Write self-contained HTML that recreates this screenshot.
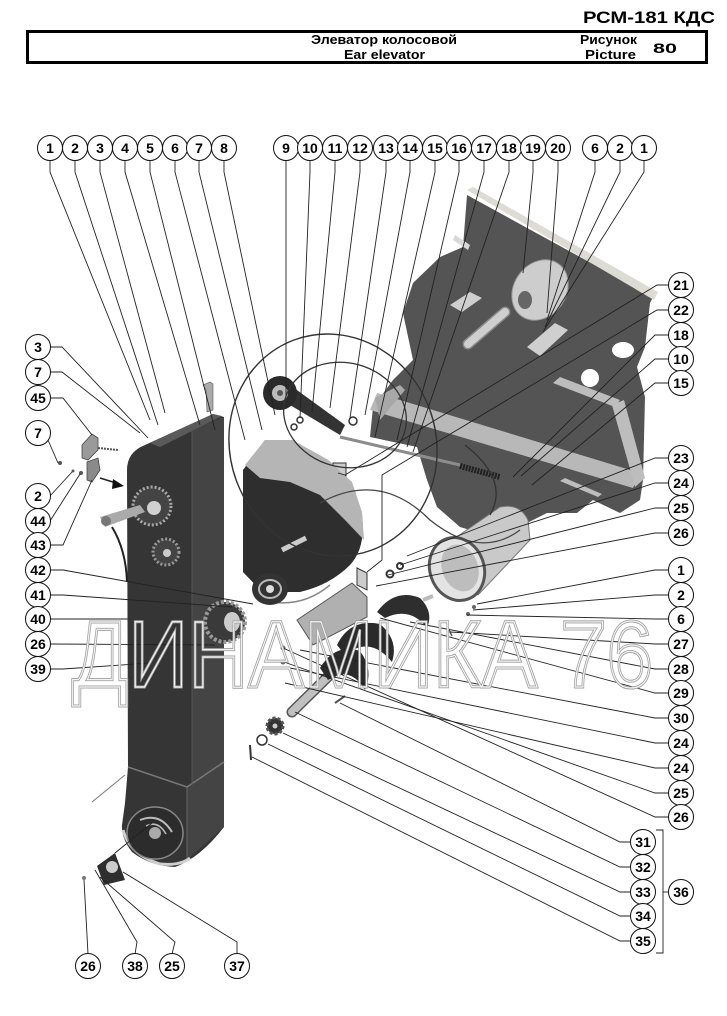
<!DOCTYPE html>
<html>
<head>
<meta charset="utf-8">
<style>
  html,body{margin:0;padding:0;background:#fff;}
  svg{display:block;}
  .c circle{fill:#fff;stroke:#111;stroke-width:1;}
  .c text{font-family:"Liberation Sans",Arial,sans-serif;font-weight:bold;font-size:14px;text-anchor:middle;fill:#000;}
  .ld polyline,.ld line{fill:none;stroke:#222;stroke-width:0.9;}
</style>
</head>
<body>
<svg width="727" height="1016" viewBox="0 0 727 1016" xmlns="http://www.w3.org/2000/svg">
<rect width="727" height="1016" fill="#fff"/>

<!-- Header -->
<text x="583" y="23" font-family="'Liberation Sans',Arial,sans-serif" font-weight="bold" font-size="17" textLength="132" lengthAdjust="spacingAndGlyphs">РСМ-181 КДС</text>
<rect x="27.5" y="31.5" width="679" height="31" fill="none" stroke="#000" stroke-width="3"/>
<g font-family="'Liberation Sans',Arial,sans-serif" font-weight="bold" font-size="13" fill="#000">
<text x="311" y="44" textLength="146" lengthAdjust="spacingAndGlyphs">Элеватор колосовой</text>
<text x="344" y="59" textLength="81" lengthAdjust="spacingAndGlyphs">Ear elevator</text>
<text x="580" y="44" textLength="57" lengthAdjust="spacingAndGlyphs">Рисунок</text>
<text x="585" y="59" textLength="51" lengthAdjust="spacingAndGlyphs">Picture</text>
<text x="653" y="53" font-size="14" textLength="24" lengthAdjust="spacingAndGlyphs">80</text>
</g>

<!-- ===== Top-right panel ===== -->
<polygon points="467,195 653,297 650,303 645,347 637,367 645,397 643,480 640,500 620,513 593,500 577,513 547,513 527,523 500,520 470,530 460,527 437,507 427,480 417,447 370,437 373,407 393,380 413,360 403,313 413,283 440,257 463,247" fill="#545454"/>
<polygon points="467,190 473,187 658,292 654,300" fill="#dcdcd4"/>
<polygon points="455,235 470,245 468,250 453,240" fill="#d8d8d8"/>
<line x1="505" y1="312" x2="468" y2="344" stroke="#8a8a8a" stroke-width="11" stroke-linecap="round"/>
<line x1="505" y1="312" x2="468" y2="344" stroke="#cfcfcf" stroke-width="8" stroke-linecap="round"/>
<ellipse cx="540" cy="290" rx="26" ry="32" transform="rotate(35 540 290)" fill="#cdcdcd" stroke="#9a9a9a"/>
<ellipse cx="525" cy="300" rx="7" ry="9" fill="#666"/>
<polygon points="527,347 555,323 568,330 540,356" fill="#cfcfcf"/>
<polygon points="450,305 470,292 482,298 462,312" fill="#cfcfcf"/>
<ellipse cx="623" cy="350" rx="11" ry="8" fill="#fff"/>
<ellipse cx="590" cy="378" rx="9" ry="9" fill="#fff"/>
<polygon points="377,393 640,473 633,488 370,410" fill="#b8b8b8"/>
<polygon points="553,383 560,377 620,400 615,407" fill="#bdbdbd"/>
<polygon points="612,405 624,400 645,478 635,487" fill="#bdbdbd"/>
<polygon points="560,481 565,478 602,494 598,497" fill="#bdbdbd"/>
<polygon points="375,398 400,385 405,390 380,420" fill="#a8a8a8"/>
<line x1="340" y1="437" x2="460" y2="465" stroke="#8c8c8c" stroke-width="3"/>
<line x1="460" y1="466" x2="500" y2="477" stroke="#222" stroke-width="6" stroke-dasharray="2 1"/>
<rect x="333" y="463" width="13" height="13" fill="#ccc" stroke="#333" stroke-width="1"/>

<!-- Nozzle -->
<path d="M445,545 L500,507 Q520,503 528,520 L530,540 L478,595 Z" fill="#c9c9c9" stroke="#777" stroke-width="1"/>
<ellipse cx="457" cy="569" rx="27" ry="32" transform="rotate(-20 457 569)" fill="#e3e3e3" stroke="#555" stroke-width="3"/>
<ellipse cx="460" cy="568" rx="18" ry="24" transform="rotate(-20 460 568)" fill="#bdbdbd"/>

<!-- ===== Elevator column ===== -->
<path d="M127,470 Q127,452 145,445 L213,414 L224,417 L224,827 Q200,858 175,867 Q150,866 132,852 Q121,838 122,825 L125,803 L128,767 Z" fill="#353535"/>
<polygon points="192,430 224,417 224,827 187,860 187,787 192,785" fill="#444"/>
<polygon points="150,443 213,414 222,416 160,447" fill="#5a5a5a"/>
<polyline points="128,767 187,787 224,762" fill="none" stroke="#777" stroke-width="1.5"/>
<line x1="187" y1="787" x2="187" y2="860" stroke="#666" stroke-width="1"/>
<line x1="192" y1="430" x2="192" y2="785" stroke="#555" stroke-width="1"/>
<path d="M123,830 Q130,855 160,864 Q180,866 190,858" fill="none" stroke="#cfcfcf" stroke-width="3"/>
<ellipse cx="155" cy="833" rx="28" ry="26" fill="#2c2c2c" stroke="#888" stroke-width="1.5"/>
<path d="M140,820 Q160,812 172,832" fill="none" stroke="#bbb" stroke-width="2"/>
<path d="M146,826 Q158,820 166,834" fill="none" stroke="#bbb" stroke-width="1.5"/>
<circle cx="155" cy="833" r="6" fill="#aaa"/>
<!-- gears on column -->
<circle cx="152" cy="506" r="19" fill="#444" stroke="#aaa" stroke-width="3" stroke-dasharray="2 2"/>
<circle cx="154" cy="508" r="7" fill="#d0d0d0"/>
<circle cx="166" cy="552" r="13" fill="#444" stroke="#999" stroke-width="3" stroke-dasharray="2 2"/>
<circle cx="167" cy="553" r="4" fill="#ccc"/>
<polygon points="100,517 140,505 145,512 105,527" fill="#aaa"/>
<circle cx="106" cy="521" r="5" fill="#777"/>
<path d="M112,527 Q126,550 127,582" fill="none" stroke="#222" stroke-width="2"/>
<!-- small brackets left -->
<polygon points="82,445 92,434 98,438 98,450 88,460 82,458" fill="#9a9a9a" stroke="#444" stroke-width="0.8"/>
<polygon points="87,462 98,458 100,470 92,482 87,480" fill="#8a8a8a" stroke="#444" stroke-width="0.8"/>
<line x1="100" y1="478" x2="116" y2="483" stroke="#222" stroke-width="1.5"/>
<polygon points="124,486 113,479 112,489" fill="#111"/>
<polygon points="203,385 210,382 213,384 213,410 207,412 206,390" fill="#aaa" stroke="#555" stroke-width="0.6"/>
<line x1="98" y1="448" x2="118" y2="450" stroke="#555" stroke-width="2" stroke-dasharray="2 1"/>
<circle cx="60" cy="463" r="2" fill="#555"/>
<circle cx="73" cy="471" r="1.5" fill="#555"/>
<circle cx="81" cy="473" r="2" fill="#555"/>
<line x1="92" y1="802" x2="125" y2="775" stroke="#777" stroke-width="1"/>

<!-- ===== Fan housing ===== -->
<path d="M243,470 L265,440 L292,440 L328,460 Q352,480 362,515 Q366,548 350,565 Q330,585 300,592 L262,592 L243,572 Z" fill="#2e2e2e"/>
<polygon points="245,465 265,440 292,440 328,460 352,482 362,512 364,540 345,520 320,495 290,482 260,478" fill="#b5b5b5"/>
<line x1="282" y1="550" x2="306" y2="538" stroke="#ccc" stroke-width="5"/>
<path d="M262,600 Q300,610 330,585" fill="none" stroke="#888" stroke-width="1.5"/>
<ellipse cx="270" cy="589" rx="18" ry="16" fill="#333"/>
<ellipse cx="270" cy="589" rx="11" ry="9" fill="none" stroke="#bbb" stroke-width="2"/>
<circle cx="270" cy="589" r="4" fill="#ddd"/>
<!-- tensioner -->
<polygon points="290,385 345,425 340,435 285,402" fill="#333"/>
<circle cx="280" cy="393" r="17" fill="#2a2a2a"/>
<circle cx="280" cy="393" r="8" fill="#bbb"/>
<circle cx="280" cy="393" r="3" fill="#555"/>
<circle cx="300" cy="420" r="3" fill="none" stroke="#333" stroke-width="1.5"/>
<circle cx="294" cy="427" r="3" fill="none" stroke="#333" stroke-width="1.5"/>
<circle cx="353" cy="421" r="4" fill="none" stroke="#333" stroke-width="1.5"/>
<!-- belts -->
<ellipse cx="333" cy="445" rx="103" ry="112" transform="rotate(-20 333 445)" fill="none" stroke="#333" stroke-width="1.4"/>
<ellipse cx="345" cy="415" rx="62" ry="52" transform="rotate(15 345 415)" fill="none" stroke="#333" stroke-width="1.3"/>
<path d="M320,503 Q380,470 430,520 Q480,560 520,530" fill="none" stroke="#444" stroke-width="1.3"/>
<path d="M465,445 Q510,480 490,515" fill="none" stroke="#333" stroke-width="1.3"/>

<!-- ===== Auger region ===== -->
<polygon points="297,620 352,583 367,597 367,617 313,645" fill="#b0b0b0" stroke="#555" stroke-width="1"/>
<polygon points="357,568 367,573 367,590 357,585" fill="#ccc" stroke="#333" stroke-width="1"/>
<path d="M377,612 Q395,588 420,598 Q434,612 427,628 Q410,606 385,618 Z" fill="#2e2e2e"/>
<line x1="423" y1="600" x2="433" y2="596" stroke="#bbb" stroke-width="4"/>
<line x1="292" y1="712" x2="350" y2="655" stroke="#555" stroke-width="11" stroke-linecap="round"/>
<line x1="292" y1="712" x2="350" y2="655" stroke="#c0c0c0" stroke-width="8" stroke-linecap="round"/>
<path d="M337,645 Q350,618 380,624 Q399,640 392,662 Q370,635 345,655 Z" fill="#2a2a2a"/>
<path d="M320,668 Q335,643 360,651 Q374,670 365,690 Q350,665 328,680 Z" fill="#2a2a2a"/>
<circle cx="275" cy="726" r="8" fill="#333" stroke="#555" stroke-width="3" stroke-dasharray="3 2"/>
<circle cx="275" cy="726" r="2.5" fill="#ccc"/>
<circle cx="262" cy="740" r="5" fill="none" stroke="#333" stroke-width="1.5"/>
<line x1="250" y1="745" x2="251" y2="760" stroke="#333" stroke-width="2"/>
<line x1="335" y1="703" x2="345" y2="696" stroke="#555" stroke-width="2"/>
<!-- gear 41 -->
<circle cx="225" cy="622" r="20" fill="#3a3a3a" stroke="#999" stroke-width="4" stroke-dasharray="3 2"/>
<ellipse cx="232" cy="622" rx="8" ry="10" fill="#ccc"/>
<!-- washers etc -->
<circle cx="400" cy="566" r="3" fill="none" stroke="#333" stroke-width="2"/>
<circle cx="390" cy="574" r="3.5" fill="none" stroke="#333" stroke-width="2"/>
<circle cx="283" cy="648" r="2.5" fill="#666"/>
<circle cx="283" cy="662" r="2.5" fill="#666"/>
<circle cx="474" cy="607" r="2" fill="#666"/>
<circle cx="468" cy="614" r="2" fill="#666"/>
<line x1="448" y1="628" x2="452" y2="636" stroke="#555" stroke-width="1.5"/>

<!-- bottom bearing housing -->
<polygon points="97,866 115,853 125,880 104,885" fill="#2e2e2e"/>
<ellipse cx="112" cy="867" rx="6" ry="6" fill="#ccc"/>
<circle cx="84" cy="878" r="2" fill="#777"/>
<line x1="115" y1="853" x2="152" y2="823" stroke="#222" stroke-width="1"/>

<!-- ===== Leader lines ===== -->
<g class="ld">
<polyline points="50,160 50,172 150,420"/>
<polyline points="75,160 75,172 158,425"/>
<polyline points="100,160 100,172 165,413"/>
<polyline points="125,160 125,172 200,425"/>
<polyline points="150,160 150,172 215,430"/>
<polyline points="175,160 175,172 245,440"/>
<polyline points="199,160 199,172 262,430"/>
<polyline points="224,160 224,172 275,415"/>
<polyline points="286,160 286,395"/>
<polyline points="310,160 310,172 300,418"/>
<polyline points="335,160 335,172 312,412"/>
<polyline points="360,160 360,172 330,408"/>
<polyline points="386,160 386,172 350,418"/>
<polyline points="410,160 410,172 365,415"/>
<polyline points="435,160 435,172 375,437"/>
<polyline points="459,160 459,172 397,440"/>
<polyline points="484,160 484,172 407,447"/>
<polyline points="509,160 509,172 413,452"/>
<polyline points="533,160 533,172 523,273"/>
<polyline points="558,160 558,172 547,313"/>
<polyline points="595,160 595,172 547,320"/>
<polyline points="620,160 620,172 545,327"/>
<polyline points="644,160 644,172 543,332"/>
<!-- right column -->
<polyline points="668,285 657,285 345,475 338,473"/>
<polyline points="668,310 657,310 382,475 382,560 367,572"/>
<polyline points="668,335 655,335 513,477"/>
<polyline points="668,359 655,359 521,476"/>
<polyline points="668,383 655,383 532,485"/>
<polyline points="668,458 655,458 407,556"/>
<polyline points="668,483 655,483 400,565"/>
<polyline points="668,508 655,508 388,575"/>
<polyline points="668,533 655,533 376,586"/>
<polyline points="668,570 655,570 477,604"/>
<polyline points="668,595 655,595 473,610"/>
<polyline points="668,619 655,619 467,615"/>
<polyline points="668,644 655,644 450,632"/>
<polyline points="668,669 655,669 410,622"/>
<polyline points="668,693 655,693 380,618"/>
<polyline points="668,718 655,718 300,650"/>
<polyline points="668,743 655,743 290,668"/>
<polyline points="668,768 655,768 285,683"/>
<polyline points="668,793 655,793 284,662"/>
<polyline points="668,817 655,817 283,648"/>
<polyline points="630,842 620,842 340,703"/>
<polyline points="630,867 620,867 295,712"/>
<polyline points="630,892 620,892 283,733"/>
<polyline points="630,916 620,916 268,744"/>
<polyline points="630,941 620,941 252,757"/>
<polyline points="656,830 663,830 663,953 656,953"/>
<line x1="663" y1="892" x2="669" y2="892"/>
<!-- left column -->
<polyline points="50,347 62,347 148,438"/>
<polyline points="50,372 62,372 140,433"/>
<polyline points="50,398 63,398 92,435"/>
<polyline points="48,440 58,463"/>
<polyline points="50,496 72,472"/>
<polyline points="50,521 80,474"/>
<polyline points="50,545 63,545 92,480"/>
<polyline points="50,570 63,570 253,604"/>
<polyline points="50,595 63,595 232,607"/>
<polyline points="50,619 128,619"/>
<polyline points="50,644 215,645"/>
<polyline points="50,669 63,669 150,663"/>
<!-- bottom -->
<polyline points="88,954 84,880"/>
<polyline points="135,954 137,942 95,870"/>
<polyline points="172,954 175,942 100,877"/>
<polyline points="237,954 237,942 123,872"/>
</g>

<!-- Watermark (double outline) -->
<text x="72" y="687" font-family="'Liberation Sans',Arial,sans-serif" font-size="95" textLength="581" lengthAdjust="spacingAndGlyphs" fill="none" stroke="#a0a0a0" stroke-width="3">ДИНАМИКА 76</text>
<text x="72" y="687" font-family="'Liberation Sans',Arial,sans-serif" font-size="95" textLength="581" lengthAdjust="spacingAndGlyphs" fill="none" stroke="#f4f4f4" stroke-width="1.2">ДИНАМИКА 76</text>

<!-- ===== Callout circles ===== -->
<g class="c">
<!-- top row -->
<circle cx="50" cy="148" r="12.5"/><text x="50" y="153">1</text>
<circle cx="75" cy="148" r="12.5"/><text x="75" y="153">2</text>
<circle cx="100" cy="148" r="12.5"/><text x="100" y="153">3</text>
<circle cx="125" cy="148" r="12.5"/><text x="125" y="153">4</text>
<circle cx="150" cy="148" r="12.5"/><text x="150" y="153">5</text>
<circle cx="175" cy="148" r="12.5"/><text x="175" y="153">6</text>
<circle cx="199" cy="148" r="12.5"/><text x="199" y="153">7</text>
<circle cx="224" cy="148" r="12.5"/><text x="224" y="153">8</text>
<circle cx="286" cy="148" r="12.5"/><text x="286" y="153">9</text>
<circle cx="310" cy="148" r="12.5"/><text x="310" y="153">10</text>
<circle cx="335" cy="148" r="12.5"/><text x="335" y="153">11</text>
<circle cx="360" cy="148" r="12.5"/><text x="360" y="153">12</text>
<circle cx="386" cy="148" r="12.5"/><text x="386" y="153">13</text>
<circle cx="410" cy="148" r="12.5"/><text x="410" y="153">14</text>
<circle cx="435" cy="148" r="12.5"/><text x="435" y="153">15</text>
<circle cx="459" cy="148" r="12.5"/><text x="459" y="153">16</text>
<circle cx="484" cy="148" r="12.5"/><text x="484" y="153">17</text>
<circle cx="509" cy="148" r="12.5"/><text x="509" y="153">18</text>
<circle cx="533" cy="148" r="12.5"/><text x="533" y="153">19</text>
<circle cx="558" cy="148" r="12.5"/><text x="558" y="153">20</text>
<circle cx="595" cy="148" r="12.5"/><text x="595" y="153">6</text>
<circle cx="620" cy="148" r="12.5"/><text x="620" y="153">2</text>
<circle cx="644" cy="148" r="12.5"/><text x="644" y="153">1</text>
<!-- right column -->
<circle cx="681" cy="285" r="12.5"/><text x="681" y="290">21</text>
<circle cx="681" cy="310" r="12.5"/><text x="681" y="315">22</text>
<circle cx="681" cy="335" r="12.5"/><text x="681" y="340">18</text>
<circle cx="681" cy="359" r="12.5"/><text x="681" y="364">10</text>
<circle cx="681" cy="383" r="12.5"/><text x="681" y="388">15</text>
<circle cx="681" cy="458" r="12.5"/><text x="681" y="463">23</text>
<circle cx="681" cy="483" r="12.5"/><text x="681" y="488">24</text>
<circle cx="681" cy="508" r="12.5"/><text x="681" y="513">25</text>
<circle cx="681" cy="533" r="12.5"/><text x="681" y="538">26</text>
<circle cx="681" cy="570" r="12.5"/><text x="681" y="575">1</text>
<circle cx="681" cy="595" r="12.5"/><text x="681" y="600">2</text>
<circle cx="681" cy="619" r="12.5"/><text x="681" y="624">6</text>
<circle cx="681" cy="644" r="12.5"/><text x="681" y="649">27</text>
<circle cx="681" cy="669" r="12.5"/><text x="681" y="674">28</text>
<circle cx="681" cy="693" r="12.5"/><text x="681" y="698">29</text>
<circle cx="681" cy="718" r="12.5"/><text x="681" y="723">30</text>
<circle cx="681" cy="743" r="12.5"/><text x="681" y="748">24</text>
<circle cx="681" cy="768" r="12.5"/><text x="681" y="773">24</text>
<circle cx="681" cy="793" r="12.5"/><text x="681" y="798">25</text>
<circle cx="681" cy="817" r="12.5"/><text x="681" y="822">26</text>
<circle cx="643" cy="842" r="12.5"/><text x="643" y="847">31</text>
<circle cx="643" cy="867" r="12.5"/><text x="643" y="872">32</text>
<circle cx="643" cy="892" r="12.5"/><text x="643" y="897">33</text>
<circle cx="643" cy="916" r="12.5"/><text x="643" y="921">34</text>
<circle cx="643" cy="941" r="12.5"/><text x="643" y="946">35</text>
<circle cx="681" cy="892" r="12.5"/><text x="681" y="897">36</text>
<!-- left column -->
<circle cx="38" cy="347" r="12.5"/><text x="38" y="352">3</text>
<circle cx="38" cy="372" r="12.5"/><text x="38" y="377">7</text>
<circle cx="38" cy="398" r="12.5"/><text x="38" y="403">45</text>
<circle cx="38" cy="433" r="12.5"/><text x="38" y="438">7</text>
<circle cx="38" cy="496" r="12.5"/><text x="38" y="501">2</text>
<circle cx="38" cy="521" r="12.5"/><text x="38" y="526">44</text>
<circle cx="38" cy="545" r="12.5"/><text x="38" y="550">43</text>
<circle cx="38" cy="570" r="12.5"/><text x="38" y="575">42</text>
<circle cx="38" cy="595" r="12.5"/><text x="38" y="600">41</text>
<circle cx="38" cy="619" r="12.5"/><text x="38" y="624">40</text>
<circle cx="38" cy="644" r="12.5"/><text x="38" y="649">26</text>
<circle cx="38" cy="669" r="12.5"/><text x="38" y="674">39</text>
<!-- bottom row -->
<circle cx="88" cy="966" r="12.5"/><text x="88" y="971">26</text>
<circle cx="135" cy="966" r="12.5"/><text x="135" y="971">38</text>
<circle cx="172" cy="966" r="12.5"/><text x="172" y="971">25</text>
<circle cx="237" cy="966" r="12.5"/><text x="237" y="971">37</text>
</g>
</svg>
</body>
</html>
